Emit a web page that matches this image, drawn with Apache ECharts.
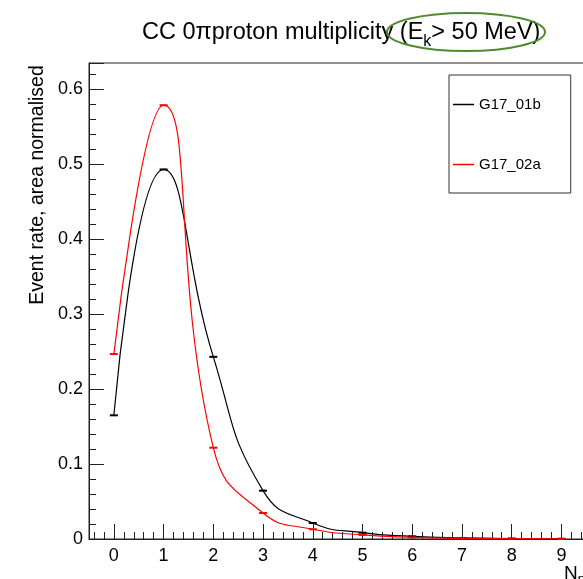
<!DOCTYPE html>
<html>
<head>
<meta charset="utf-8">
<script src="https://cdn.jsdelivr.net/npm/echarts@6/dist/echarts.min.js"></script>
<style>
html, body { margin: 0; padding: 0; background: #fff; }
#main { width: 583px; height: 579px; }
</style>
</head>
<body>
<div id="main"></div>
<script>
// proton multiplicity, one point per N_p bin
var nProton = [0, 1, 2, 3, 4, 5, 6, 7, 8, 9];
var g17_01b = [0.165, 0.493, 0.243, 0.0645, 0.0213, 0.0084, 0.0035, 0.0014, 0.0006, 0.0003];
var g17_02a = [0.2467, 0.5787, 0.1218, 0.0347, 0.013, 0.0055, 0.0022, 0.0009, 0.0004, 0.0002];
var seriesNames = ['G17_01b', 'G17_02a'];

var font = '"Liberation Sans", Arial, Helvetica, sans-serif';

function pairs(vals) {
    var out = [];
    for (var i = 0; i < vals.length; i++) {
        out.push([nProton[i], vals[i]]);
    }
    return out;
}

var myChart = echarts.init(document.getElementById('main'));

myChart.setOption({
    animation: false,
    backgroundColor: '#fff',
    title: {
        left: 137,
        top: 11,
        text: 'CC 0\u03c0proton multiplicity (E{s|k}> 50 MeV)',
        textStyle: {
            fontFamily: font,
            fontSize: 23.5,
            fontWeight: 'normal',
            color: '#000',
            rich: {
                s: { fontFamily: font, fontSize: 16, color: '#000', padding: [18, 0, 0, 0] }
            }
        }
    },
    grid: {
        left: 89,
        top: 63,
        right: -53,   // frame runs past the right edge of the picture
        bottom: 40,
        outerBoundsMode: 'none',
        show: true,
        borderColor: '#222',
        borderWidth: 1,
        backgroundColor: 'transparent'
    },
    legend: {
        orient: 'vertical',
        left: 449,
        top: 75,
        padding: [22, 30, 21, 4],
        itemGap: 45,
        itemWidth: 21,
        itemHeight: 1.5,
        borderColor: '#333',
        borderWidth: 1,
        textStyle: { fontFamily: font, fontSize: 15, color: '#000' },
        data: [
            { name: seriesNames[0], icon: 'rect' },
            { name: seriesNames[1], icon: 'rect' }
        ]
    },
    xAxis: {
        type: 'value',
        min: -0.5,
        max: 10.5,
        splitNumber: 11,
        axisLine: { show: true, onZero: false, lineStyle: { color: '#222', width: 1 } },
        axisTick: { show: true, inside: true, length: 15, lineStyle: { color: '#222' } },
        minorTick: { show: true, splitNumber: 5, length: 7, lineStyle: { color: '#222' } },
        axisLabel: {
            margin: 8,
            fontFamily: font,
            fontSize: 18,
            color: '#000',
            showMinLabel: false,
            showMaxLabel: false
        },
        splitLine: { show: false }
    },
    yAxis: {
        type: 'value',
        min: 0,
        max: 0.635,
        interval: 0.1,
        axisLine: { show: true, onZero: false, lineStyle: { color: '#222', width: 1 } },
        axisTick: { show: true, inside: true, length: 15, lineStyle: { color: '#222' } },
        minorTick: { show: true, splitNumber: 5, length: 7, lineStyle: { color: '#222' } },
        axisLabel: {
            margin: 6,
            fontFamily: font,
            fontSize: 18,
            color: '#000',
            showMaxLabel: false,
            formatter: function (v) { return String(v); }
        },
        splitLine: { show: false }
    },
    graphic: [
        {
            type: 'ellipse',
            shape: { cx: 466, cy: 32, rx: 79, ry: 19 },
            style: { fill: 'none', stroke: '#4f8a30', lineWidth: 2 },
            z: 10
        },
        {
            type: 'text',
            x: 38,
            y: 185,
            rotation: Math.PI / 2,
            style: {
                text: 'Event rate, area normalised',
                fontFamily: font,
                fontSize: 19.5,
                fill: '#000',
                align: 'center',
                verticalAlign: 'middle'
            }
        },
        {
            type: 'text',
            x: 564,
            y: 561,
            style: {
                text: 'N{s|p}',
                fontFamily: font,
                fontSize: 19,
                fill: '#000',
                rich: { s: { fontFamily: font, fontSize: 13, padding: [12, 0, 0, 0] } }
            }
        }
    ],
    series: [
        {
            name: seriesNames[0],
            type: 'line',
            smooth: 0.5,
            symbol: 'rect',
            symbolSize: [8, 2],
            showSymbol: true,
            itemStyle: { color: '#000' },
            lineStyle: { color: '#000', width: 1.2 },
            data: pairs(g17_01b)
        },
        {
            name: seriesNames[1],
            type: 'line',
            smooth: 0.5,
            symbol: 'rect',
            symbolSize: [8, 2],
            showSymbol: true,
            itemStyle: { color: '#ff0000' },
            lineStyle: { color: '#ff0000', width: 1.2 },
            data: pairs(g17_02a)
        }
    ]
});
</script>
</body>
</html>
